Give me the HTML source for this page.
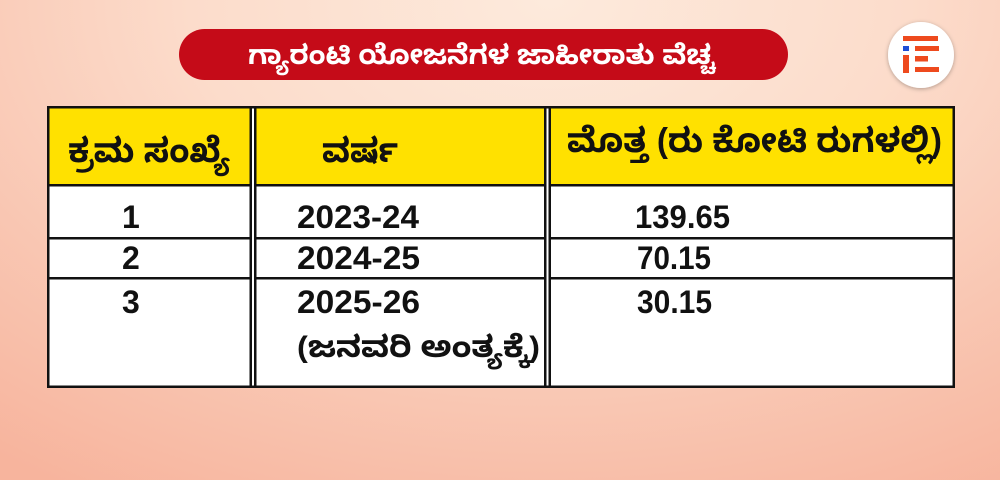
<!DOCTYPE html>
<html>
<head>
<meta charset="utf-8">
<style>
  html, body { margin:0; padding:0; }
  body { width:1000px; height:480px; overflow:hidden;
    background: radial-gradient(ellipse 90% 120% at 55% 0%, #fdeadc 0%, #fcdccb 40%, #f9c7b3 70%, #f7b49d 100%);
  }
  svg { position:absolute; left:0; top:0; }
  .num { font-family:"Liberation Sans", sans-serif; font-weight:bold; font-size:32px; fill:#111; }
  .kn { font-family:"Liberation Sans", "Noto Sans Kannada", sans-serif; font-weight:bold; fill:#111; }
</style>
</head>
<body>
<svg width="1000" height="480" viewBox="0 0 1000 480" xmlns="http://www.w3.org/2000/svg">
  <defs>
    <filter id="sh" x="-30%" y="-30%" width="160%" height="160%">
      <feDropShadow dx="0" dy="1" stdDeviation="2" flood-color="#000" flood-opacity="0.3"/>
    </filter>
  </defs>

  <!-- Title pill -->
  <rect x="179" y="29" width="609" height="51" rx="25.5" ry="25.5" fill="#c50b18"/>
  <text x="248" y="64" textLength="467" lengthAdjust="spacingAndGlyphs" font-family="'Liberation Sans', 'Noto Sans Kannada', sans-serif" font-weight="bold" font-size="27" fill="#ffffff">ಗ್ಯಾರಂಟಿ ಯೋಜನೆಗಳ ಜಾಹೀರಾತು ವೆಚ್ಚ</text>

  <!-- Logo -->
  <circle cx="921" cy="55" r="33" fill="#ffffff" filter="url(#sh)"/>
  <rect x="903" y="36" width="35" height="5" fill="#ee4a1e"/>
  <rect x="903" y="46" width="6" height="5" fill="#1d4ed6"/>
  <rect x="915" y="46" width="24" height="5" fill="#ee4a1e"/>
  <rect x="903" y="55" width="6" height="18" fill="#ee4a1e"/>
  <rect x="915" y="56" width="13" height="5.5" fill="#ee4a1e"/>
  <rect x="915" y="67" width="24" height="5" fill="#ee4a1e"/>

  <!-- Table backgrounds -->
  <rect x="48" y="107" width="906" height="79" fill="#ffe100"/>
  <rect x="48" y="186" width="906" height="201" fill="#ffffff"/>
  <!-- white gaps of double lines -->
  <rect x="252" y="107" width="2" height="280" fill="#ffffff"/>
  <rect x="546.5" y="107" width="2" height="280" fill="#ffffff"/>

  <!-- Outer border -->
  <rect x="48.25" y="107.25" width="905.5" height="279.5" fill="none" stroke="#111" stroke-width="2.5"/>
  <!-- Horizontal lines -->
  <rect x="48" y="184" width="906" height="2.5" fill="#111"/>
  <rect x="48" y="237" width="906" height="2.5" fill="#111"/>
  <rect x="48" y="277" width="906" height="2.5" fill="#111"/>
  <!-- Double vertical dividers -->
  <rect x="249.5" y="107" width="2.5" height="280" fill="#111"/>
  <rect x="254" y="107" width="2.5" height="280" fill="#111"/>
  <rect x="544" y="107" width="2.5" height="280" fill="#111"/>
  <rect x="548.5" y="107" width="2.5" height="280" fill="#111"/>
  <!-- gaps need to be white at row separators too -->
  <rect x="252" y="184" width="2" height="2.5" fill="#ffffff"/>
  <rect x="252" y="237" width="2" height="2.5" fill="#ffffff"/>
  <rect x="252" y="277" width="2" height="2.5" fill="#ffffff"/>
  <rect x="546.5" y="184" width="2" height="2.5" fill="#ffffff"/>
  <rect x="546.5" y="237" width="2" height="2.5" fill="#ffffff"/>
  <rect x="546.5" y="277" width="2" height="2.5" fill="#ffffff"/>

  <!-- Header text -->
  <text class="kn" x="68" y="162" font-size="34" textLength="162" lengthAdjust="spacingAndGlyphs">ಕ್ರಮ ಸಂಖ್ಯೆ</text>
  <text class="kn" x="322" y="162" font-size="34" textLength="76" lengthAdjust="spacingAndGlyphs">ವರ್ಷ</text>
  <text class="kn" x="567" y="152" font-size="34" textLength="375" lengthAdjust="spacingAndGlyphs">ಮೊತ್ತ (ರು ಕೋಟಿ ರುಗಳಲ್ಲಿ)</text>

  <!-- Rows -->
  <text class="num" x="122" y="228">1</text>
  <text class="num" x="297" y="228" textLength="122" lengthAdjust="spacingAndGlyphs">2023-24</text>
  <text class="num" x="635" y="228" textLength="95" lengthAdjust="spacingAndGlyphs">139.65</text>

  <text class="num" x="122" y="269">2</text>
  <text class="num" x="297" y="269" textLength="123" lengthAdjust="spacingAndGlyphs">2024-25</text>
  <text class="num" x="637" y="269" textLength="74" lengthAdjust="spacingAndGlyphs">70.15</text>

  <text class="num" x="122" y="313">3</text>
  <text class="num" x="297" y="313" textLength="123" lengthAdjust="spacingAndGlyphs">2025-26</text>
  <text class="num" x="637" y="313" textLength="75" lengthAdjust="spacingAndGlyphs">30.15</text>

  <text class="kn" x="297" y="357" font-size="30" textLength="243" lengthAdjust="spacingAndGlyphs">(ಜನವರಿ ಅಂತ್ಯಕ್ಕೆ)</text>
</svg>
</body>
</html>
